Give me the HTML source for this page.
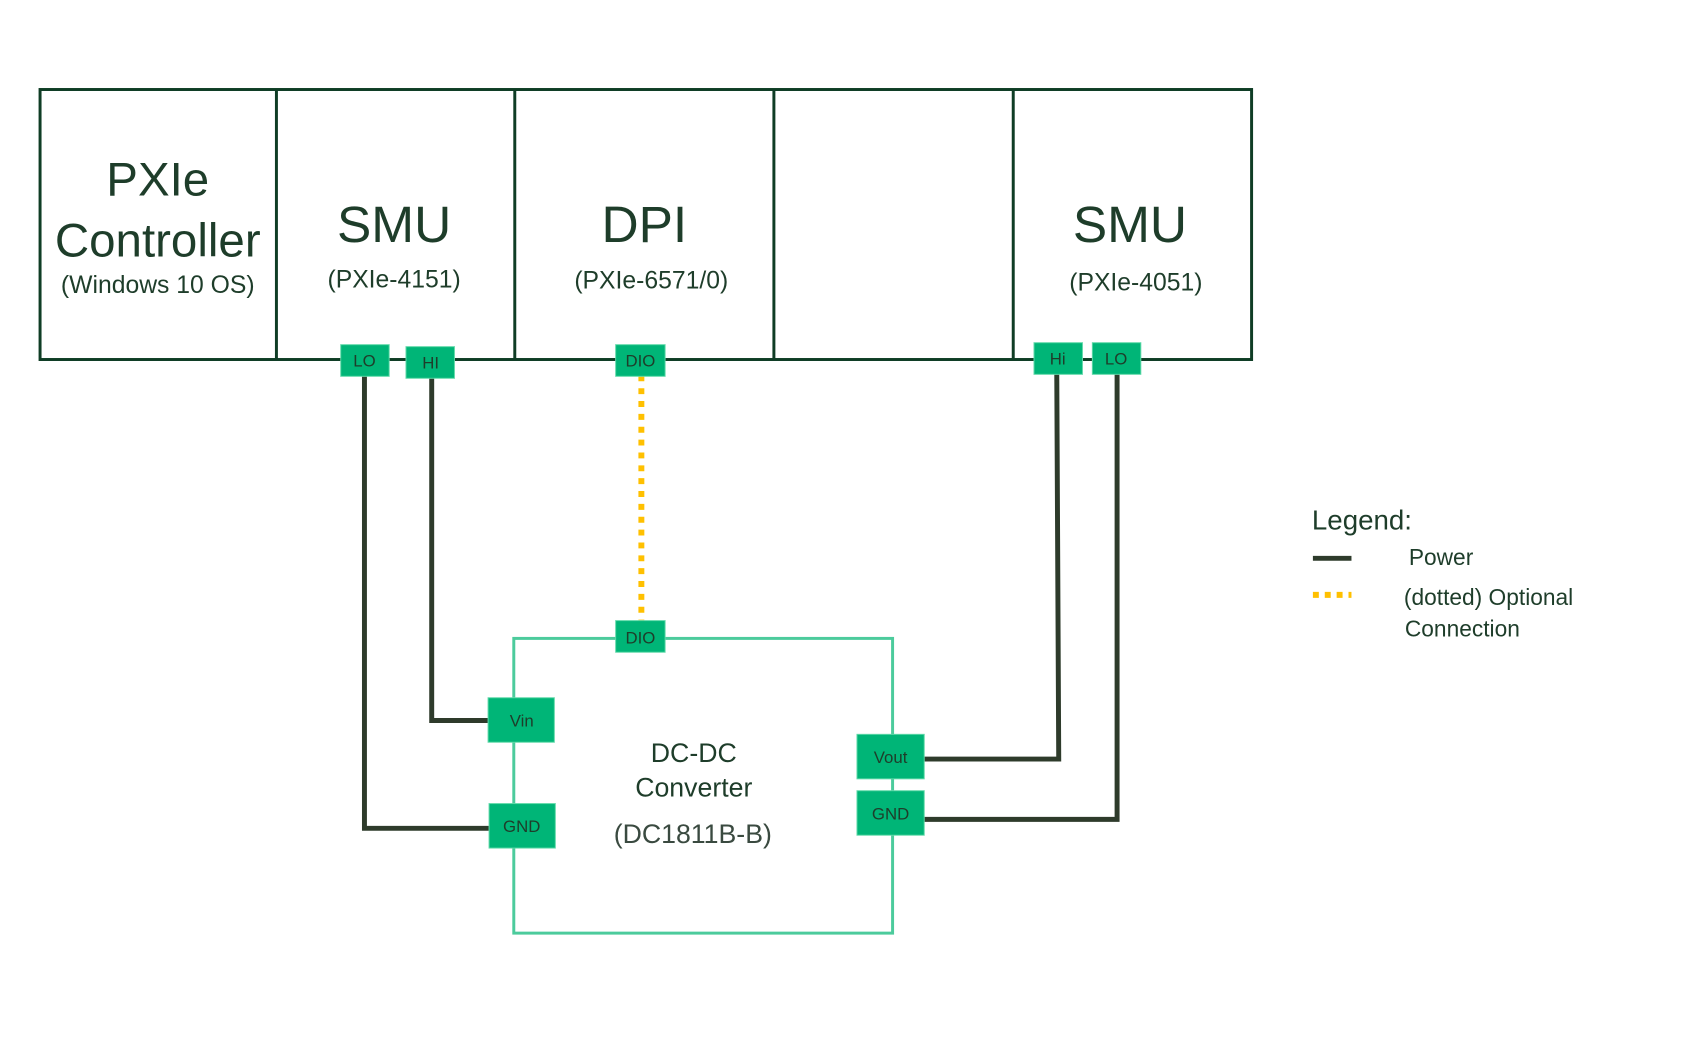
<!DOCTYPE html>
<html><head><meta charset="utf-8"><style>
body{margin:0;background:#fff;}
svg text{font-family:"Liberation Sans",sans-serif;}
</style></head><body>
<svg width="1705" height="1036" viewBox="0 0 1705 1036" xmlns="http://www.w3.org/2000/svg">
<rect width="1705" height="1036" fill="#fff"/>
<g transform="translate(0.5,0.5) scale(0.989)">
<rect x="40" y="90" width="1225" height="273" fill="none" stroke="#0f3d25" stroke-width="3"/>
<g stroke="#0f3d25" stroke-width="3">
<line x1="279" y1="90" x2="279" y2="363"/>
<line x1="520" y1="90" x2="520" y2="363"/>
<line x1="782" y1="90" x2="782" y2="363"/>
<line x1="1024" y1="90" x2="1024" y2="363"/>
</g>
<g fill="#1e3d2a" text-anchor="middle">
<text x="159" y="197" font-size="48">PXIe</text>
<text x="159" y="259" font-size="48">Controller</text>
<text x="159" y="296" font-size="25">(Windows 10 OS)</text>
<text x="398" y="244" font-size="52">SMU</text>
<text x="398" y="290" font-size="25">(PXIe-4151)</text>
<text x="651" y="244" font-size="52">DPI</text>
<text x="658" y="291" font-size="25">(PXIe-6571/0)</text>
<text x="1142" y="244" font-size="52">SMU</text>
<text x="1148" y="293" font-size="25">(PXIe-4051)</text>
</g>
<rect x="519" y="645" width="383" height="298" fill="none" stroke="#4ccb9c" stroke-width="3"/>
<g fill="none" stroke="#2e3b2b" stroke-width="5">
<polyline points="368,375 368,837 494,837"/>
<polyline points="436,377 436,728 494,728"/>
<polyline points="1068,374 1070,767 925,767"/>
<polyline points="1129,374 1129,828 925,828"/>
</g>
<line x1="648" y1="379" x2="648" y2="630" stroke="#ffc000" stroke-width="6" stroke-dasharray="6,7"/>
<g fill="#00b577" stroke="#5fd9a8" stroke-width="1">
<rect x="344" y="348" width="49" height="32"/>
<rect x="410" y="350" width="49" height="32"/>
<rect x="622" y="348" width="50" height="32"/>
<rect x="1045" y="346" width="49" height="32"/>
<rect x="1104" y="346" width="49" height="32"/>
<rect x="622" y="627" width="50" height="32"/>
<rect x="493" y="705" width="67" height="45"/>
<rect x="494" y="812" width="67" height="45"/>
<rect x="866" y="742" width="68" height="45"/>
<rect x="866" y="799" width="68" height="45"/>
</g>
<g fill="#1e3d2a" text-anchor="middle" font-size="17">
<text x="368" y="370">LO</text>
<text x="435" y="372">HI</text>
<text x="647" y="370">DIO</text>
<text x="1069" y="368">Hi</text>
<text x="1128" y="368">LO</text>
<text x="647" y="650">DIO</text>
<text x="527" y="734">Vin</text>
<text x="527" y="841">GND</text>
<text x="900" y="771">Vout</text>
<text x="900" y="828">GND</text>
</g>
<g fill="#1e3d2a" text-anchor="middle">
<text x="701" y="770" font-size="27">DC-DC</text>
<text x="701" y="805" font-size="27">Converter</text>
<text x="700" y="852" font-size="27" fill="#3a4a40">(DC1811B-B)</text>
</g>
<text x="1326" y="535" font-size="28" fill="#1e3d2a">Legend:</text>
<line x1="1327" y1="564" x2="1366" y2="564" stroke="#2e3b2b" stroke-width="5"/>
<text x="1424" y="571" font-size="23" fill="#1e3d2a">Power</text>
<line x1="1327" y1="601" x2="1366" y2="601" stroke="#ffc000" stroke-width="6" stroke-dasharray="6,6"/>
<text x="1419" y="611" font-size="23" fill="#1e3d2a">(dotted) Optional</text>
<text x="1420" y="643" font-size="23" fill="#1e3d2a">Connection</text>
</g>
</svg>
</body></html>
